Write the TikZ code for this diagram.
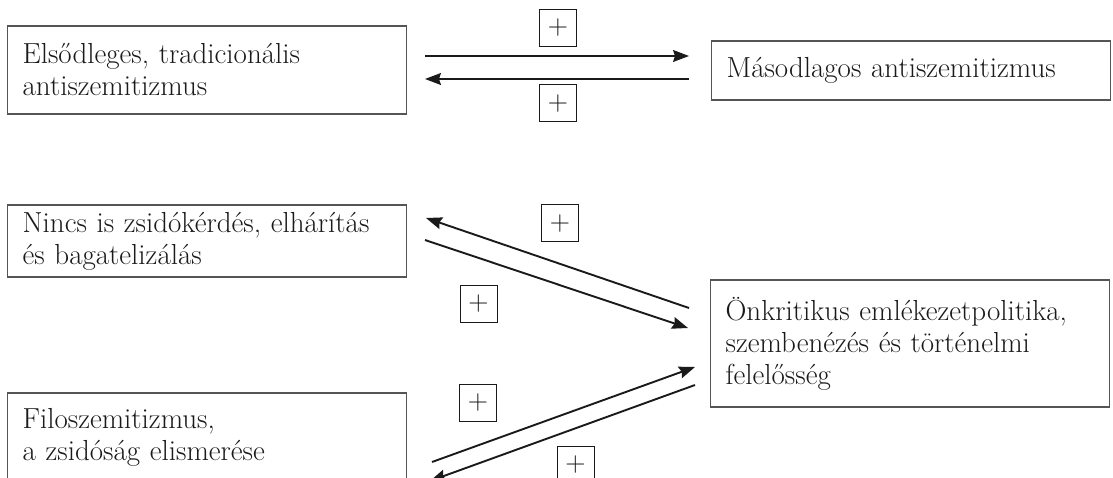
\documentclass[tikz,border=0pt]{standalone}
\usetikzlibrary{arrows.meta}
\definecolor{ink}{HTML}{1A1A1A}
\definecolor{frame}{HTML}{555555}
\begin{document}
\begin{tikzpicture}[x=1pt,y=-1pt,
  box/.style={draw=frame, line width=1.2pt, rectangle, anchor=west, align=left,
    inner xsep=15pt, inner ysep=0pt, text width=369pt, text=ink,
    font=\fontsize{29}{32}\selectfont},
  plusbox/.style={draw=ink, line width=1pt, rectangle, minimum size=37pt, inner sep=0pt,
    font=\fontsize{28}{28}\selectfont, text=ink},
  flow/.style={draw=ink, line width=1.9pt, -{Stealth[length=16pt,width=12pt,inset=2pt]}},
  hflow/.style={draw=ink, line width=1.4pt, -{Stealth[length=16pt,width=12pt,inset=2pt]}}
]
\useasboundingbox (0,0) rectangle (1113,478);
\clip (0,0) rectangle (1113,478);

% boxes
\node[box, minimum height=88pt] (b1) at (7,70) {Elsődleges, tradicionális\\antiszemitizmus};
\node[box, minimum height=59pt] (b2) at (711,70.5) {Másodlagos antiszemitizmus};
\node[box, minimum height=72pt] (b3) at (7,241) {Nincs is zsidókérdés, elhárítás\\és bagatelizálás};
\node[box, minimum height=127pt] (b4) at (710,343.5) {Önkritikus emlékezetpolitika,\\szembenézés és történelmi\\felelősség};
\node[box, minimum height=88pt] (b5) at (7,437) {Filoszemitizmus,\\a zsidóság elismerése};

% plus signs
\node[plusbox] (p1) at (558,28) {+};
\node[plusbox] (p2) at (558,103.5) {+};
\node[plusbox] (p3) at (560,223.5) {+};
\node[plusbox] (p4) at (478.5,303.5) {+};
\node[plusbox] (p5) at (478,402.5) {+};
\node[plusbox] (p6) at (575.5,464.5) {+};

% arrow end points
\coordinate (a1s) at (425,56);  \coordinate (a1e) at (689,56);
\coordinate (a2s) at (689,79);  \coordinate (a2e) at (425,79);
\coordinate (a3s) at (689,308); \coordinate (a3e) at (426,218);
\coordinate (a4s) at (425,240); \coordinate (a4e) at (688,328);
\coordinate (a5s) at (432,462); \coordinate (a5e) at (695,367);
\coordinate (a6s) at (695,385); \coordinate (a6e) at (430,481);

\draw[hflow] (a1s) -- (a1e);
\draw[hflow] (a2s) -- (a2e);
\draw[flow] (a3s) -- (a3e);
\draw[flow] (a4s) -- (a4e);
\draw[flow] (a5s) -- (a5e);
\draw[flow] (a6s) -- (a6e);
\end{tikzpicture}
\end{document}
